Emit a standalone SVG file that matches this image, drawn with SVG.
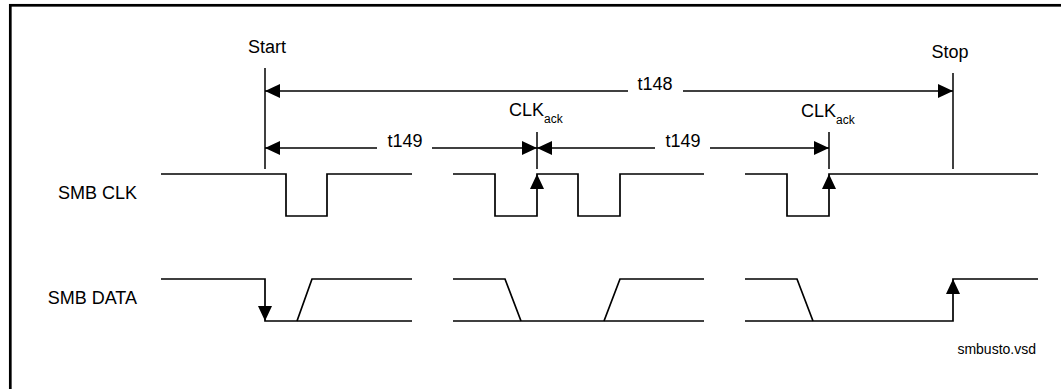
<svg xmlns="http://www.w3.org/2000/svg" width="1061" height="389" viewBox="0 0 1061 389">
<style>
.t{font-family:"Liberation Sans",Arial,sans-serif;font-size:18px;fill:#000}
.sub{font-size:12px}
.small{font-size:14px}
.sig{fill:none;stroke:#000;stroke-width:1.7}
.ref{fill:none;stroke:#000;stroke-width:1.5}
.dim{fill:none;stroke:#000;stroke-width:1.6}
.ah{fill:#000;stroke:none}
</style>
<defs>
<marker id="arr" markerUnits="userSpaceOnUse" markerWidth="15" markerHeight="14" refX="15" refY="7" orient="auto-start-reverse">
<path d="M0,0 L15,7 L0,14 z" fill="#000"/>
</marker>
</defs>
<rect id="frame" x="10.3" y="5.3" width="1100" height="500" fill="#fff" stroke="#000" stroke-width="2.7"/>
<g id="labels">
<text class="t" x="137" y="199" text-anchor="end">SMB CLK</text>
<text class="t" x="137" y="304" text-anchor="end">SMB DATA</text>
<text class="t" x="267" y="53" text-anchor="middle">Start</text>
<text class="t" x="950" y="58" text-anchor="middle">Stop</text>
<text class="t small" x="1036" y="354" text-anchor="end">smbusto.vsd</text>
</g>
<g id="clk-ack-1"><text class="t" x="509" y="116">CLK<tspan class="sub" dy="7">ack</tspan></text></g>
<g id="clk-ack-2"><text class="t" x="801" y="117">CLK<tspan class="sub" dy="7">ack</tspan></text></g>
<g id="reference-lines">
<line class="ref" x1="265" y1="68" x2="265" y2="169"/>
<line class="ref" x1="537" y1="132" x2="537" y2="169"/>
<line class="ref" x1="829" y1="132" x2="829" y2="169"/>
<line class="ref" x1="953" y1="73" x2="953" y2="169"/>
</g>
<g id="t148">
<line class="dim" x1="628" y1="91" x2="265" y2="91" marker-end="url(#arr)"/>
<line class="dim" x1="683" y1="91" x2="953" y2="91" marker-end="url(#arr)"/>
<text class="t" x="655" y="90" text-anchor="middle">t148</text>
</g>
<g id="t149-1">
<line class="dim" x1="377" y1="148" x2="265" y2="148" marker-end="url(#arr)"/>
<line class="dim" x1="432" y1="148" x2="537" y2="148" marker-end="url(#arr)"/>
<text class="t" x="405" y="147" text-anchor="middle">t149</text>
</g>
<g id="t149-2">
<line class="dim" x1="655" y1="148" x2="537" y2="148" marker-end="url(#arr)"/>
<line class="dim" x1="710" y1="148" x2="829" y2="148" marker-end="url(#arr)"/>
<text class="t" x="683" y="147" text-anchor="middle">t149</text>
</g>
<g id="smb-clk">
<path class="sig" d="M161,174 H286 V216 H327 V174 H412"/>
<path class="sig" d="M453,174 H495 V216 H537 V174 H578 V216 H620 V174 H704"/>
<path class="sig" d="M745,174 H787 V216 H829 V174 H1038"/>
<polygon class="ah" points="537,174 530,189 544,189"/>
<polygon class="ah" points="829,174 822,189 836,189"/>
</g>
<g id="smb-data">
<path class="sig" d="M161,279 H265 V321 H412"/>
<path class="sig" d="M297,321 L312,279 H412"/>
<polygon class="ah" points="265,321 258,306 272,306"/>
<path class="sig" d="M453,279 H505 L521,321"/>
<path class="sig" d="M453,321 H704"/>
<path class="sig" d="M604,321 L620,279 H704"/>
<path class="sig" d="M745,279 H797 L813,321"/>
<path class="sig" d="M745,321 H953 V279 H1038"/>
<polygon class="ah" points="953,279 946,294 960,294"/>
</g>
</svg>
